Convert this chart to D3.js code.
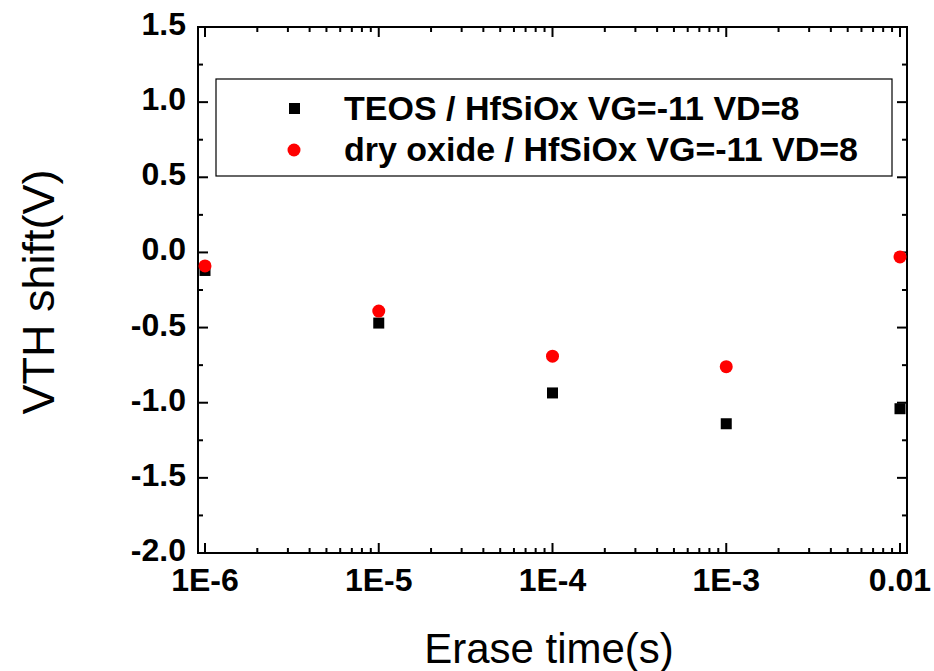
<!DOCTYPE html>
<html>
<head>
<meta charset="utf-8">
<script src="https://cdn.jsdelivr.net/npm/d3@7"></script>
<style>
  body { margin: 0; background: #fff; }
  svg text { font-family: "Liberation Sans", Arial, sans-serif; }
</style>
</head>
<body>
<svg id="chart" width="934" height="671"></svg>
<script>
// data
var eraseTimes = [1e-6, 1e-5, 1e-4, 1e-3, 1e-2];
var teosShift = [-0.12, -0.47, -0.935, -1.14, -1.04];
var dryShift = [-0.09, -0.39, -0.69, -0.76, -0.03];
var seriesNames = ["TEOS / HfSiOx VG=-11 VD=8", "dry oxide / HfSiOx VG=-11 VD=8"];
var xTickLabels = ["1E-6", "1E-5", "1E-4", "1E-3", "0.01"];
var yTicks = [-2.0, -1.5, -1.0, -0.5, 0.0, 0.5, 1.0, 1.5];

var plotLeft = 198, plotRight = 907, plotTop = 27, plotBottom = 553;

var svg = d3.select("#chart");

// x is log, padded a little each side like the original
var x = d3.scaleLog()
          .domain([Math.pow(10, -6.0403), Math.pow(10, -1.9597)])
          .range([plotLeft, plotRight]);

var y = d3.scaleLinear()
          .domain([-2.0, 1.5])
          .range([plotBottom, plotTop]);

// minor ticks
var xMinor = [];
for (var e = -6; e < -2; e++) {
  for (var m = 2; m <= 9; m++) xMinor.push(m * Math.pow(10, e));
}
var yMinor = d3.range(-1.75, 1.5, 0.5);

// frame
svg.append("rect")
   .attr("x", plotLeft).attr("y", plotTop)
   .attr("width", plotRight - plotLeft).attr("height", plotBottom - plotTop)
   .attr("fill", "none").attr("stroke", "#000").attr("stroke-width", 2);

var ticks = svg.append("g").attr("stroke", "#000").attr("stroke-width", 2);

// x ticks, bottom and top, pointing in
eraseTimes.forEach(function (t) {
  ticks.append("line").attr("x1", x(t)).attr("x2", x(t)).attr("y1", plotBottom).attr("y2", plotBottom - 10);
  ticks.append("line").attr("x1", x(t)).attr("x2", x(t)).attr("y1", plotTop).attr("y2", plotTop + 10);
});
xMinor.forEach(function (t) {
  ticks.append("line").attr("x1", x(t)).attr("x2", x(t)).attr("y1", plotBottom).attr("y2", plotBottom - 5);
  ticks.append("line").attr("x1", x(t)).attr("x2", x(t)).attr("y1", plotTop).attr("y2", plotTop + 5);
});

// y ticks, left and right, pointing in
yTicks.forEach(function (v) {
  ticks.append("line").attr("x1", plotLeft).attr("x2", plotLeft + 10).attr("y1", y(v)).attr("y2", y(v));
  ticks.append("line").attr("x1", plotRight).attr("x2", plotRight - 10).attr("y1", y(v)).attr("y2", y(v));
});
yMinor.forEach(function (v) {
  ticks.append("line").attr("x1", plotLeft).attr("x2", plotLeft + 5).attr("y1", y(v)).attr("y2", y(v));
  ticks.append("line").attr("x1", plotRight).attr("x2", plotRight - 5).attr("y1", y(v)).attr("y2", y(v));
});

// tick labels
svg.append("g").selectAll("text")
   .data(eraseTimes)
   .enter()
   .append("text")
   .attr("x", function (d) { return x(d); })
   .attr("y", plotBottom + 38)
   .attr("text-anchor", "middle")
   .attr("font-size", 32)
   .attr("font-weight", "bold")
   .text(function (d, i) { return xTickLabels[i]; });

svg.append("g").selectAll("text")
   .data(yTicks)
   .enter()
   .append("text")
   .attr("x", plotLeft - 12)
   .attr("y", function (d) { return y(d) + 8; })
   .attr("text-anchor", "end")
   .attr("font-size", 32)
   .attr("font-weight", "bold")
   .text(function (d) { return d.toFixed(1); });

// axis titles
svg.append("text")
   .attr("x", 549).attr("y", 663)
   .attr("text-anchor", "middle")
   .attr("font-size", 42)
   .text("Erase time(s)");

svg.append("text")
   .attr("transform", "translate(54, 292) rotate(-90)")
   .attr("text-anchor", "middle")
   .attr("font-size", 45)
   .text("VTH shift(V)");

// points
svg.append("g").selectAll("rect")
   .data(eraseTimes)
   .enter()
   .append("rect")
   .attr("x", function (d) { return x(d) - 5.5; })
   .attr("y", function (d, i) { return y(teosShift[i]) - 5.5; })
   .attr("width", 11).attr("height", 11)
   .attr("fill", "#000");

svg.append("g").selectAll("circle")
   .data(eraseTimes)
   .enter()
   .append("circle")
   .attr("cx", function (d) { return x(d); })
   .attr("cy", function (d, i) { return y(dryShift[i]); })
   .attr("r", 6.5)
   .attr("fill", "#ff0000");

// legend
var legend = svg.append("g");
legend.append("rect")
      .attr("x", 216).attr("y", 79)
      .attr("width", 676).attr("height", 97)
      .attr("fill", "#fff").attr("stroke", "#000").attr("stroke-width", 1.2);

legend.append("rect")
      .attr("x", 289).attr("y", 103).attr("width", 11).attr("height", 11)
      .attr("fill", "#000");
legend.append("circle")
      .attr("cx", 294).attr("cy", 150).attr("r", 6.5)
      .attr("fill", "#ff0000");

legend.selectAll("text")
      .data(seriesNames)
      .enter()
      .append("text")
      .attr("x", 344)
      .attr("y", function (d, i) { return 120 + i * 41; })
      .attr("font-size", 34)
      .attr("font-weight", "bold")
      .text(function (d) { return d; });
</script>
</body>
</html>
